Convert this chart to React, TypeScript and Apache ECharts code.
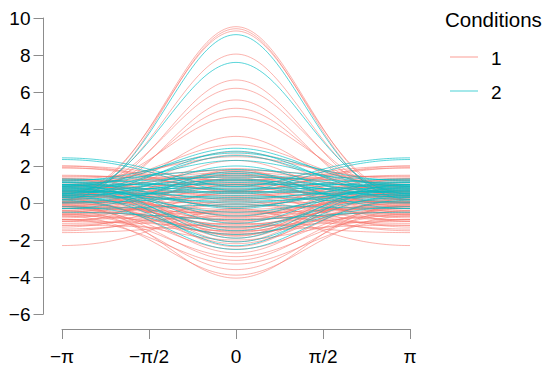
import React, { useEffect, useRef } from "react";
import * as echarts from "echarts";

// Andrews-curve coefficients per observation: f(t) = a + b·cos(t) + c·cos(2t)
const condition1Rows: number[][] = [
  [4.48, 4.6, 0.45], [4.31, 4.66, 0.45], [4.45, 4.4, 0.45], [3.82, 3.83, 0.4],
  [3.1, 3.22, 0.33], [3.1, 2.8, 0.3], [2.51, 2.78, 0.28], [2.52, 2.36, 0.24],
  [2.54, 1.93, 0.2], [1.73, 1.7, 0.17], [1.92, 1.12, 0.11],
  [1.79, 0.88, 0.09], [1.39, 1.1, 0.11], [1.84, 0.6, 0.06], [0.93, 1.25, 0.12],
  [1.64, -0.4, -0.04], [1.32, -0.65, -0.07], [1.22, 0.58, 0.06], [0.53, 1.15, 0.12],
  [1.56, 0.18, 0.02], [0.87, 0.75, 0.08], [1.35, 0.28, 0.03], [0.17, 1.3, 0.13],
  [1.17, 0.3, 0.03], [0.66, 0.73, 0.07], [1.29, 0.1, 0.01], [0.86, 0.4, 0.04],
  [0.37, 0.75, 0.08], [0.93, 0.15, 0.02], [0.01, 0.9, 0.09], [1.23, -0.3, -0.03],
  [0.52, 0.25, 0.03], [-0.4, 1.0, 0.1], [0.6, 0, 0], [0.17, 0.3, 0.03],
  [0.73, -0.3, -0.03], [-0.2, 0.45, 0.05], [0.31, -0.1, -0.01], [-0.78, 0.8, 0.08],
  [0.05, -0.05, 0], [-0.27, 0.15, 0.02], [0.3, -0.45, -0.05], [-1.4, 1.0, 0.1],
  [-0.68, 0.25, 0.03], [-0.11, -0.35, -0.04], [-0.38, -0.2, -0.02], [-0.92, 0.2, 0.02],
  [-0.08, -0.65, -0.07], [-0.68, -0.2, -0.02], [0.15, -1.05, -0.1], [-1.38, 0.25, 0.03],
  [-0.54, -0.6, -0.06], [-0.97, -0.3, -0.03], [-0.19, -1.1, -0.11], [-1.33, -0.15, -0.02],
  [-0.55, -0.95, -0.1], [-0.93, -0.7, -0.07], [-0.09, -1.55, -0.16], [-0.52, -1.25, -0.13],
  [-1.39, -0.55, -0.06], [-0.45, -1.5, -0.15], [-0.93, -1.15, -0.12], [-0.68, -1.53, -0.15],
  [-1.29, -1.1, -0.11], [-1.1, -1.45, -0.15], [-1.63, -1.15, -0.12], [-1.5, -1.45, -0.15],
  [-1.98, -1.2, -0.12], [-1.84, -1.6, -0.16], [-2.14, -1.6, -0.16], [-1.88, -1.98, -0.2],
  [0.43, 0.48, 0.05], [1.0, -0.23, -0.02], [0.66, -0.28, -0.03], [-0.43, 0.53, 0.05],
  [0.61, -0.78, -0.08], [-0.98, 0.48, 0.05], [-0.08, -0.53, -0.05], [-0.44, -0.38, -0.04],
  [-0.15, -0.83, -0.08], [-1.12, -0.13, -0.01], [-0.55, -0.83, -0.08], [-1.08, -0.53, -0.05],
  [1.36, -0.1, -0.01], [0.66, 0.35, 0.04], [-0.14, 0.63, 0.06], [0.46, -0.2, -0.02],
  [-0.69, 0.58, 0.06], [-0.13, -0.2, -0.02], [-0.41, -0.13, -0.01], [0.22, -0.88, -0.09],
  [-0.54, -0.38, -0.04], [-0.76, -0.35, -0.04], [-0.36, -0.9, -0.09], [-0.78, -0.7, -0.07],
  [-0.79, -0.88, -0.09], [1.03, 0.48, 0.05], [0.28, 0.98, 0.1], [0.32, 0.3, 0.03],
  [1.37, -0.7, -0.07], [1.5, -0.45, -0.05],
];

const condition2Rows: number[][] = [
  [4.2, 4.45, 0.45], [3.69, 3.55, 0.36],
  [1.75, -0.77, -0.08], [1.6, -0.83, -0.08],
  [1.83, 1.03, 0.1], [1.53, 1.15, 0.12], [1.87, 0.75, 0.08], [1.54, 0.93, 0.09],
  [1.58, 0.65, 0.07], [1.06, 0.85, 0.09], [1.5, 0.28, 0.03], [1.16, 0.4, 0.04],
  [1.0, 0.45, 0.05], [1.24, 0.15, 0.01], [0.8, 0.45, 0.05], [1.04, 0.15, 0.01],
  [0.8, 0.28, 0.03], [1.0, 0, 0], [0.51, 0.35, 0.04], [0.78, 0.03, 0],
  [1.03, -0.3, -0.03], [0.53, 0.08, 0.01], [0.75, -0.23, -0.02], [0.18, 0.2, 0.02],
  [0.49, -0.18, -0.02], [0.56, -0.33, -0.03], [0.24, -0.13, -0.01], [0.33, -0.3, -0.03],
  [-0.21, 0.1, 0.01], [0.47, -0.7, -0.07], [0.05, -0.5, -0.05], [0.13, -0.75, -0.08],
  [-0.68, -0.2, -0.02], [0.03, -1.03, -0.1], [-0.42, -0.8, -0.08], [-0.29, -1.1, -0.11],
  [-0.87, -0.75, -0.08], [-0.3, -1.45, -0.15], [-0.72, -1.25, -0.13], [-0.57, -1.58, -0.16],
  [-1.05, -1.33, -0.13], [0.6, 1.0, 0.1], [0.88, -0.3, -0.03], [0.3, -0.45, -0.05],
  [0.59, 0.6, 0.06],
];

const conditionNames = ["1", "2"];
const conditionColors = ["#F8766D", "#00BFC4"];
const xTickLabels = ["\u2212\u03c0", "\u2212\u03c0/2", "0", "\u03c0/2", "\u03c0"];
const yMin = -6;
const yMax = 10;
const yStep = 2;

// sample positions in units of π
const samples: number[] = [];
for (let i = 0; i <= 120; i++) samples.push(-1 + i / 60);

function andrews(row: number[]) {
  return samples.map((s) => {
    const t = s * Math.PI;
    return [s, row[0] + row[1] * Math.cos(t) + row[2] * Math.cos(2 * t)];
  });
}

export default function App() {
  const ref = useRef<HTMLDivElement>(null);
  useEffect(() => {
    if (!ref.current) return;
    const chart = echarts.init(ref.current, undefined, { renderer: "svg" });
    const series: any[] = [];
    const groups = [condition1Rows, condition2Rows];
    groups.forEach((rows, gi) => {
      rows.forEach((row, ri) => {
        series.push({
          type: "line",
          name: conditionNames[gi] + "_" + ri,
          data: andrews(row),
          showSymbol: false,
          silent: true,
          smooth: false,
          lineStyle: { color: conditionColors[gi], width: 1, opacity: gi === 0 ? 0.55 : 0.65 },
        });
      });
    });
    const font = "'Liberation Sans', Arial, sans-serif";
    const axisGrey = "#8c8c8c";
    chart.setOption({
      animation: false,
      grid: { left: 62, right: 140, top: 18, bottom: 57 },
      xAxis: {
        type: "value",
        min: -1,
        max: 1,
        interval: 0.5,
        offset: 15,
        axisLine: { show: true, onZero: false, lineStyle: { color: axisGrey, width: 1 } },
        axisTick: { show: true, length: 10, lineStyle: { color: axisGrey } },
        splitLine: { show: false },
        axisLabel: {
          margin: 18,
          color: "#000",
          fontSize: 19,
          fontFamily: font,
          formatter: (v: number) => xTickLabels[Math.round((v + 1) * 2)] ?? "",
        },
      },
      yAxis: {
        type: "value",
        min: yMin,
        max: yMax,
        interval: yStep,
        offset: 18.5,
        axisLine: { show: true, onZero: false, lineStyle: { color: axisGrey, width: 1 } },
        axisTick: { show: true, length: 10, lineStyle: { color: axisGrey } },
        splitLine: { show: false },
        axisLabel: {
          margin: 13,
          color: "#000",
          fontSize: 19,
          fontFamily: font,
          formatter: (v: number) => (v < 0 ? "\u2212" + Math.abs(v) : String(v)),
        },
      },
      graphic: [
        { type: "text", x: 445, y: 19.5, style: { text: "Conditions", fontSize: 20.5, fontFamily: font, fill: "#000", verticalAlign: "middle" } },
        { type: "line", shape: { x1: 450, y1: 57, x2: 478, y2: 57 }, style: { stroke: conditionColors[0], lineWidth: 1.2, opacity: 0.6 } },
        { type: "text", x: 491, y: 58.5, style: { text: conditionNames[0], fontSize: 19, fontFamily: font, fill: "#000", verticalAlign: "middle" } },
        { type: "line", shape: { x1: 450, y1: 91, x2: 478, y2: 91 }, style: { stroke: conditionColors[1], lineWidth: 1.2, opacity: 0.6 } },
        { type: "text", x: 491, y: 92.5, style: { text: conditionNames[1], fontSize: 19, fontFamily: font, fill: "#000", verticalAlign: "middle" } },
      ],
      series,
    });
    return () => chart.dispose();
  }, []);
  return <div ref={ref} style={{ width: 550, height: 371, position: "absolute", left: 0, top: 0 }} />;
}
